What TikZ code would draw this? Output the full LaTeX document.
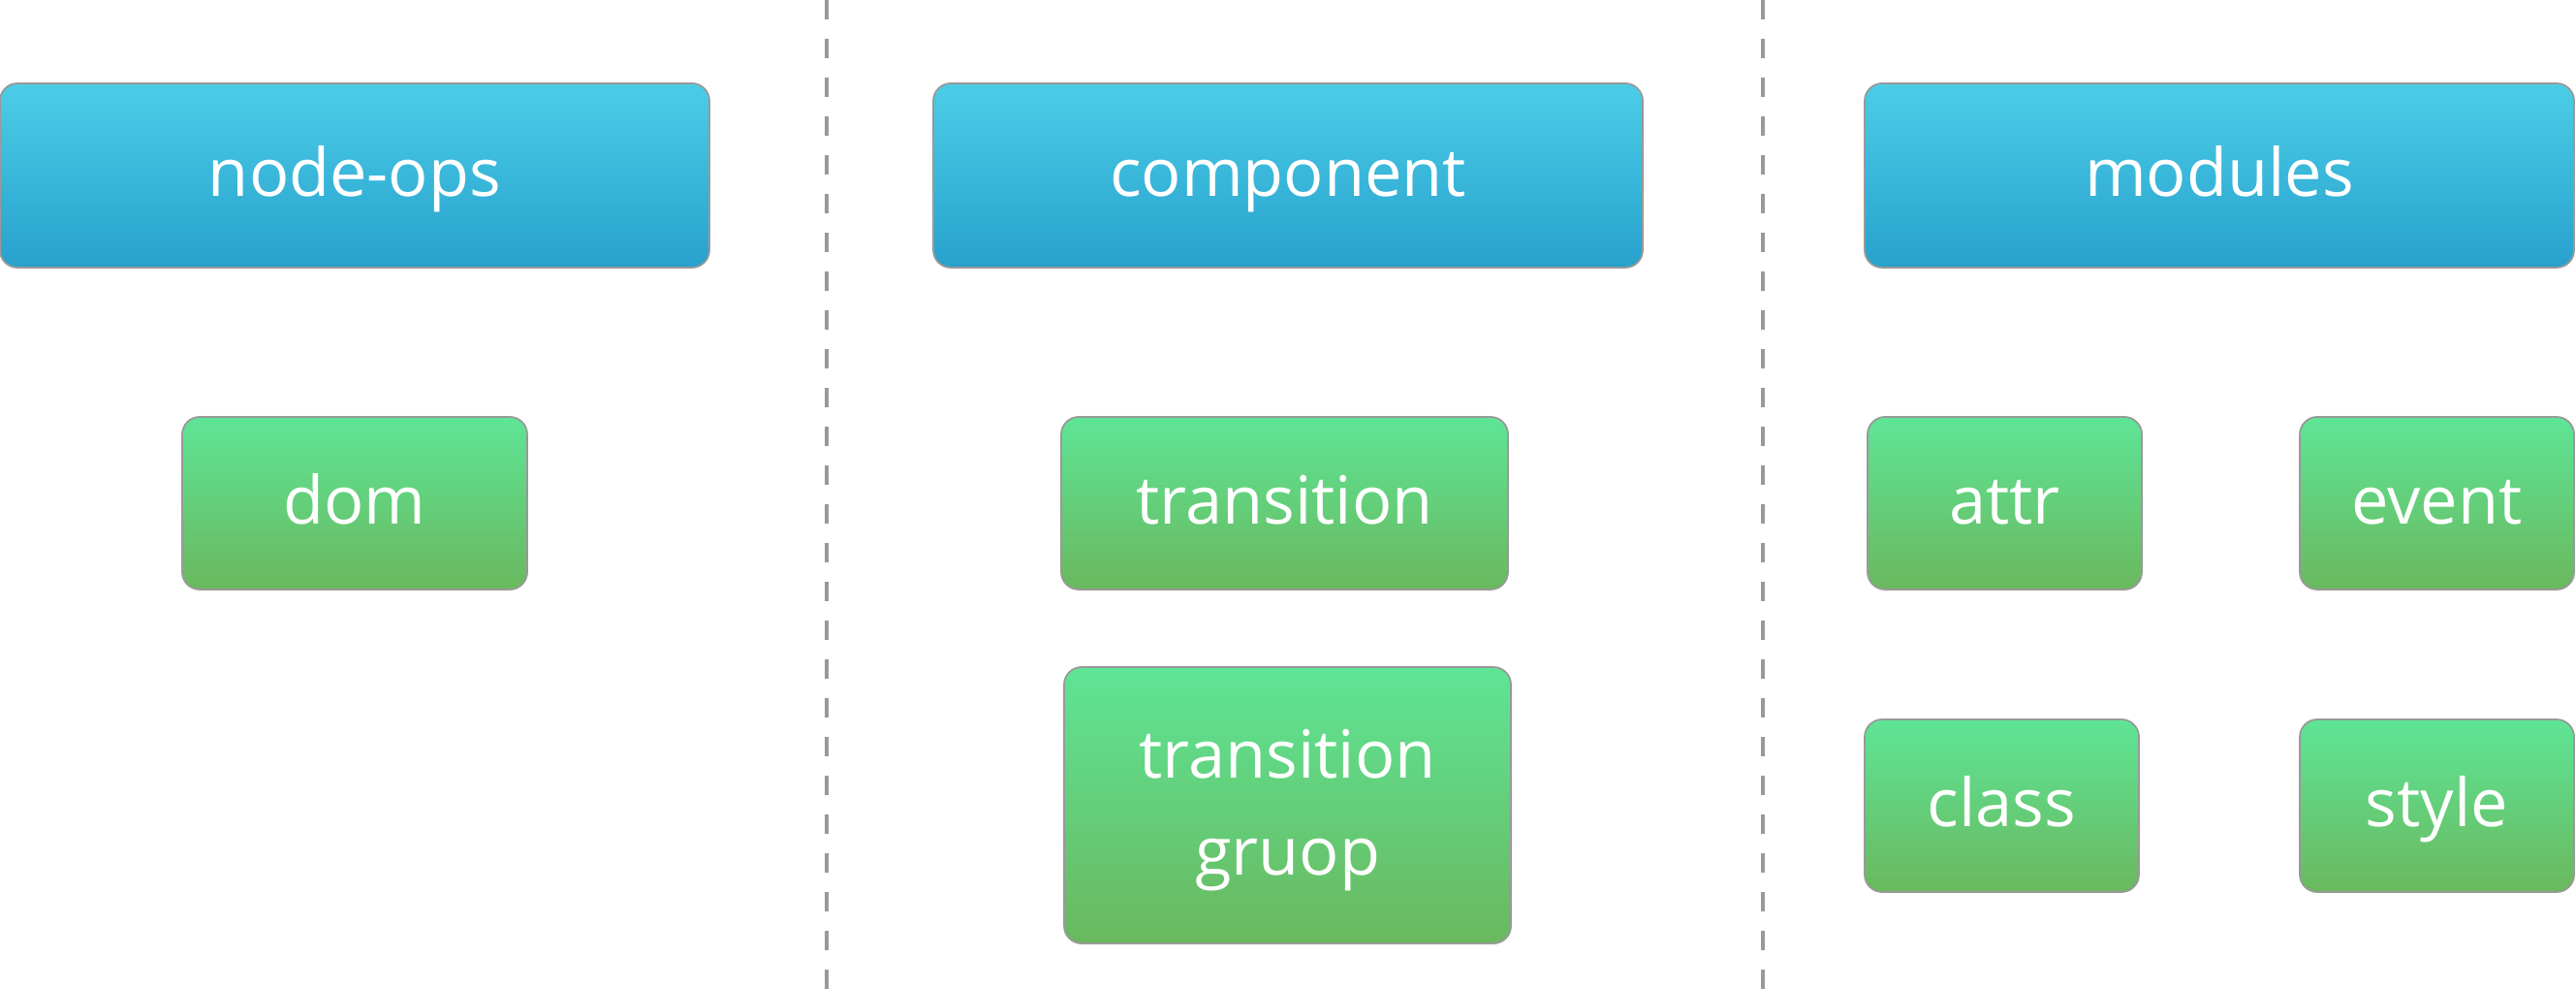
\documentclass[tikz,border=0pt]{standalone}
\usepackage{fontspec}
\setmainfont{Open Sans}
\definecolor{headtop}{RGB}{75,205,231}
\definecolor{headbot}{RGB}{40,161,205}
\definecolor{leaftop}{RGB}{94,229,150}
\definecolor{leafbot}{RGB}{106,184,94}
\definecolor{edgegray}{RGB}{153,153,153}
\begin{document}
\begin{tikzpicture}[
	head/.style={
		rectangle,
		draw=edgegray,
		line width=0.5pt,
		align=center,
		rounded corners=0.18cm,
		top color=headtop,
		bottom color=headbot,
		text=white,
		font=\fontsize{19.5}{28.4}\selectfont,
		text height=0.62cm,
		text depth=0.18cm,
		inner sep=0pt,
		minimum height=1.9cm,
		minimum width=7.32cm
	},
	leaf/.style={
		rectangle,
		draw=edgegray,
		line width=0.5pt,
		align=center,
		rounded corners=0.18cm,
		top color=leaftop,
		bottom color=leafbot,
		text=white,
		font=\fontsize{19.5}{28.4}\selectfont,
		text height=0.62cm,
		text depth=0.18cm,
		inner sep=0pt,
		minimum height=1.78cm
	},
	divider/.style={
		draw=edgegray,
		line width=1.1pt,
		dash pattern=on 0.2cm off 0.2cm
	},
]

\useasboundingbox (0,0) rectangle (26.58,-10.2);

\draw[divider] (8.53,0) -- (8.53,-10.2);
\draw[divider] (18.19,0) -- (18.19,-10.2);

\node[head] (head_ops) at (3.66, -1.81) {node-ops};
\node[head] (head_comp) at (13.29, -1.81) {component};
\node[head] (head_mod) at (22.90, -1.81) {modules};

\node[leaf, minimum width=3.56cm] (leaf_dom) at (3.66, -5.19) {dom};

\node[leaf, minimum width=4.61cm] (leaf_trans) at (13.255, -5.19) {transition};
\node[leaf, minimum width=4.61cm, minimum height=2.85cm, text height=1.62cm] (leaf_group) at (13.285, -8.305) {transition\\gruop};

\node[leaf, minimum width=2.83cm] (leaf_attr) at (20.685, -5.19) {attr};
\node[leaf, minimum width=2.83cm] (leaf_event) at (25.145, -5.19) {event};
\node[leaf, minimum width=2.83cm] (leaf_class) at (20.655, -8.31) {class};
\node[leaf, minimum width=2.83cm] (leaf_style) at (25.145, -8.31) {style};

\end{tikzpicture}
\end{document}
